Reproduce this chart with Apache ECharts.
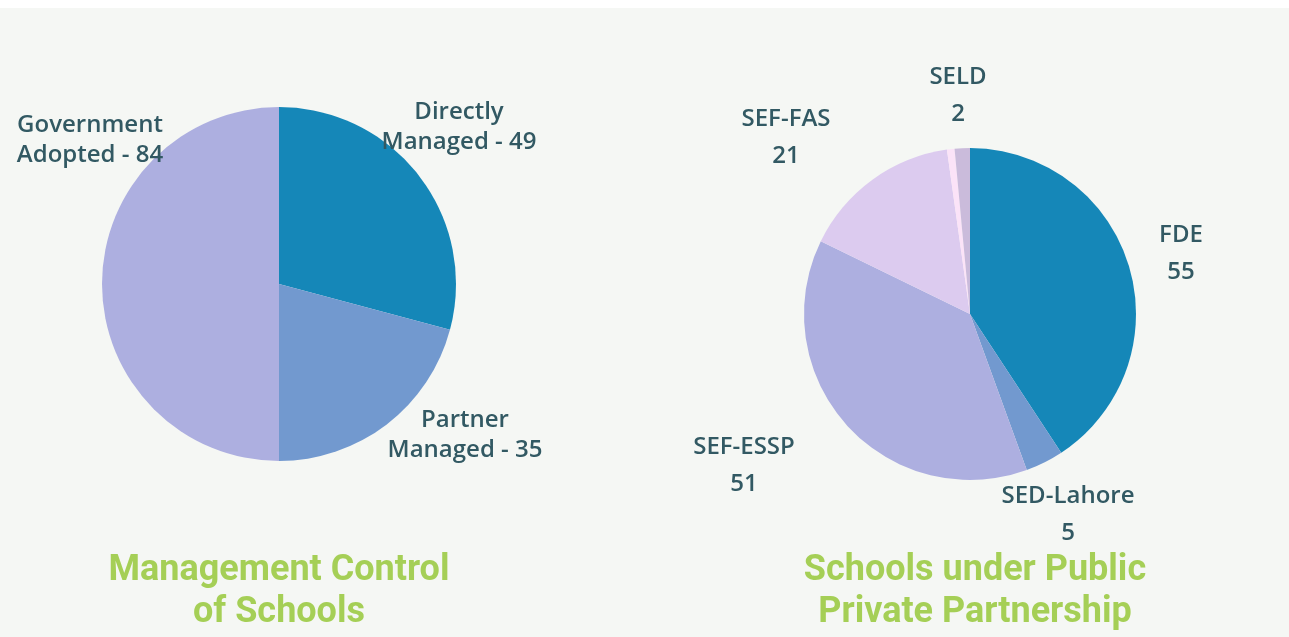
<!DOCTYPE html>
<html>
<head>
<meta charset="utf-8">
<script src="https://cdn.jsdelivr.net/npm/echarts@6/dist/echarts.min.js"></script>
<style>
  html, body { margin: 0; padding: 0; background: #ffffff; }
  #charts { position: absolute; left: 0; top: 8px; width: 1289px; height: 629px; }
</style>
</head>
<body>
<div id="charts"></div>
<script>
// management control of schools
const mgmtNames = ["Directly Managed", "Partner Managed", "Government Adopted"];
const mgmtValues = [49, 35, 84];
const mgmtColors = ["#1587b8", "#7299cf", "#adafe0"];

// public private partnership
const pppNames = ["FDE", "SED-Lahore", "SEF-ESSP", "SEF-FAS", "Other", "SELD"];
const pppValues = [55, 5, 51, 21, 1, 2];
const pppColors = ["#1587b8", "#7299cf", "#adafe0", "#dccbef", "#fbe3f8", "#cabbdb"];

// label spots (px inside chart)
const mgmtLabelPos = [[459, 119], [465, 427], [90, 132]];
const pppLabelPos = [[1181, 246], [1068, 507], [744, 458], [786, 130], null, [958, 88]];

const labelColor = "#325963";
const titleColor = "#a5cf56";

let myChart = echarts.init(document.getElementById("charts"));

function build(names, values) {
  return names.map((n, i) => ({ name: n, value: values[i] }));
}

myChart.setOption({
  backgroundColor: "#f5f7f4",
  animation: false,
  title: [
    {
      text: "Management Control\nof Schools",
      left: 274,
      top: 537,
      textAlign: "center",
      textStyle: {
        fontFamily: "Roboto",
        fontWeight: 700,
        fontSize: 36,
        lineHeight: 42,
        color: titleColor
      }
    },
    {
      text: "Schools under Public\nPrivate Partnership",
      left: 970,
      top: 537,
      textAlign: "center",
      textStyle: {
        fontFamily: "Roboto",
        fontWeight: 700,
        fontSize: 36,
        lineHeight: 42,
        color: titleColor
      }
    }
  ],
  series: [
    {
      type: "pie",
      center: [279, 276],
      radius: 177,
      startAngle: 90,
      clockwise: true,
      color: mgmtColors,
      data: build(mgmtNames, mgmtValues),
      label: {
        show: true,
        position: "outside",
        overflow: "none",
        formatter: (p) => {
          const parts = p.name.split(" ");
          return parts[0] + "\n" + parts.slice(1).join(" ") + " - " + p.value;
        },
        fontFamily: "Open Sans",
        fontWeight: 600,
        fontSize: 24,
        lineHeight: 30,
        color: labelColor,
        align: "center"
      },
      labelLine: { show: false },
      labelLayout: (p) => {
        const pos = mgmtLabelPos[p.dataIndex];
        return { x: pos[0], y: pos[1], align: "center", verticalAlign: "middle" };
      },
      emphasis: { disabled: true }
    },
    {
      type: "pie",
      center: [970, 306],
      radius: 166,
      startAngle: 90,
      clockwise: true,
      color: pppColors,
      data: build(pppNames, pppValues),
      label: {
        show: true,
        position: "outside",
        overflow: "none",
        formatter: (p) => (pppLabelPos[p.dataIndex] ? p.name + "\n" + p.value : ""),
        fontFamily: "Open Sans",
        fontWeight: 600,
        fontSize: 24,
        lineHeight: 37,
        color: labelColor,
        align: "center"
      },
      labelLine: { show: false },
      labelLayout: (p) => {
        const pos = pppLabelPos[p.dataIndex];
        if (!pos) return { x: 0, y: 0 };
        return { x: pos[0], y: pos[1], align: "center", verticalAlign: "middle" };
      },
      emphasis: { disabled: true }
    }
  ]
});
</script>
</body>
</html>
